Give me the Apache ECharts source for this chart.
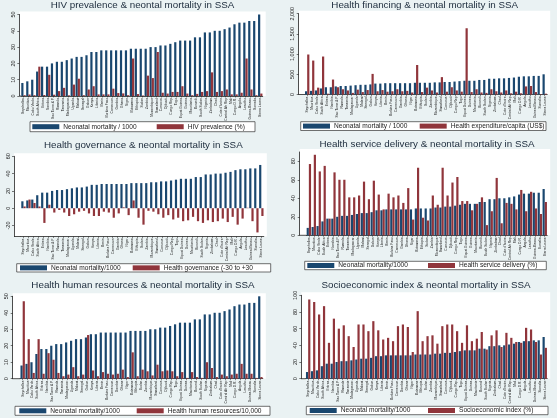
<!DOCTYPE html>
<html><head><meta charset="utf-8">
<script src="https://cdn.jsdelivr.net/npm/echarts@6/dist/echarts.min.js"></script>
<style>html,body{margin:0;padding:0;background:#eaf2f3}#c{width:557px;height:418px}</style>
</head><body><div id="c"></div><script>
const countries = ['Seychelles','Mauritius','Cabo Verde','South Africa','Eritrea','Namibia','Sao Tome & P','Rwanda','Tanzania','Madagascar','Uganda','Malawi','Senegal','Gabon','Kenya','Liberia','Benin','Burkina Faso','Cameroon','Gambia','Ghana','Niger','Botswana','Ethiopia','Sudan','Zambia','Mozambique','Swaziland','Comoros','Djibouti','Congo Rep','Togo','Equat Guinea','Guinea','Mauritania','Burundi','South Sudan','Nigeria','Zimbabwe','Chad',"Cote d'Ivoire",'Central Afr Rep','Mali','Congo D.R.','Angola','Lesotho','Guinea-Bissau','Somalia','Sierra Leone'];
const neonatal = [8,9,10,15,18,18,20,21,21,22,23,24,24,25,27,27,28,28,28,28,28,28,29,29,29,29,30,30,31,31,32,33,34,34,34,36,36,39,39,40,40,41,42,44,45,45,46,46,50];
const hivPrevalence = [0.5,0.9,0.5,18,0.6,13,0.8,3,5,0.4,7,10.6,0.5,4,6,1,1,1,4.5,1.8,1.6,0.5,23,1.2,0.3,12.5,11,27,2,1.5,2.5,2.5,6,1.5,0.5,1.3,2.5,3,14.5,2.5,3,4,1,1,2,23,4,0.5,1.5];
const healthExpenditure = [990,840,170,940,20,370,180,130,100,40,120,60,110,510,80,110,70,80,130,80,90,50,730,60,170,100,50,430,70,180,100,70,1640,60,130,50,40,130,80,50,100,30,70,30,200,210,60,10,20];
const governance = [2,10,6,2,-17,4,-5,-2,-5,-9,-7,-4,-3,-6,-9,-9,-4,-5,-11,-6,1,-8,9,-11,-19,-3,-4,-7,-11,-8,-13,-11,-15,-14,-10,-15,-17,-14,-16,-15,-12,-16,-10,-19,-12,0.5,-15,-28,-9];
const serviceDelivery = [77,87,69,75,18,68,60,60,41,41,43,58,39,59,44,28,45,41,43,35,51,17,73,19,16,43,33,73,43,57,63,37,37,27,34,41,11,26,62,13,35,34,28,49,26,47,29,23,36];
const humanResources = [47,24,3.5,24,3,15.5,11.5,3.5,1.5,2.5,7,1.5,2.5,26.5,5,1.5,4,3,2.5,3,5.5,1,16,1.5,5.5,4.5,2,8.5,4.5,5,4.5,1.5,4,0.5,4,1,0.5,10,6.5,1,2.5,1.5,2.5,3,9,3,3,0.5,1];
const socioeconomic = [95,92,77,87,43,72,60,64,51,38,65,65,57,69,58,47,49,45,63,65,62,32,81,45,51,52,42,63,65,65,57,43,64,45,48,56,35,52,58,38,55,49,44,43,61,59,44,29,37];

const ticks1 = [0,10,20,30,40,50];
const ticks2 = [0,500,1000,1500,2000];
const ticks3 = [-20,0,20,40,60];
const ticks4 = [0,20,40,60,80];
const ticks5 = [0,10,20,30,40,50];
const ticks6 = [0,20,40,60,80,100];

const P = [
 {t:'HIV prevalence & neontal mortality in SSA', tx:142.5, ty:5.5, ax:19.3, gl:21, gr:262.7, gt:14.5, gb:96, min:0, max:50, ticks:ticks1, na:'Neonatal mortality / 1000', nb:'HIV prevalence (%)', a:neonatal, b:hivPrevalence, box:[30,121.7,255,131.7], ka:32.3, kb:156.7},
 {t:'Health financing & neontal mortality in SSA', tx:424.7, ty:5.5, ax:298.7, gl:304.7, gr:547.2, gt:13.7, gb:94.5, min:0, max:2000, ticks:ticks2, na:'Neonatal mortality / 1000', nb:'Health expenditure/capita (US$)', a:neonatal.map(v=>v*10), b:healthExpenditure, box:[300.7,121.7,546,130.5], ka:303, kb:419.7},
 {t:'Health governance & neontal mortality in SSA', tx:143.3, ty:145.3, ax:14, gl:21, gr:263.8, gt:156.3, gb:236.5, min:-32.7, max:60, ticks:ticks3, bottom:true, na:'Neonatal mortality/1000', nb:'Health governance (-30 to +30', a:neonatal, b:governance, box:[16.7,263.7,270.7,272], ka:20, kb:132.7},
 {t:'Health service delivery & neontal mortality in SSA', tx:427, ty:144.7, ax:299.7, gl:306.4, gr:547.2, gt:152, gb:235.3, min:0, max:90, ticks:ticks4, na:'Neonatal mortality/1000', nb:'Health service delivery (%)', a:neonatal, b:serviceDelivery, box:[304.7,261.3,546.3,269.7], ka:307.3, kb:428},
 {t:'Health human resources & neontal mortality in SSA', tx:143, ty:285.3, ax:12.7, gl:20.2, gr:262.8, gt:296.3, gb:378.7, min:0, max:50, ticks:ticks5, na:'Neonatal mortality/1000', nb:'Health human resources/10,000', a:neonatal, b:humanResources, box:[15,406.3,270,415.3], ka:19.3, kb:136.7},
 {t:'Socioeconomic index & neontal mortality in SSA', tx:426, ty:285.3, ax:301.3, gl:305.7, gr:547.2, gt:295.3, gb:378.7, min:0, max:100, ticks:ticks6, na:'Neonatal mortality/1000', nb:'Socioeconomic index (%)', a:neonatal, b:socioeconomic, box:[306.3,406.3,548,414.7], ka:309.7, kb:428}
];

const FONT = 'Liberation Sans, Arial, sans-serif';
const BLUE = '#1a476f', RED = '#90353b';
const grid=[], xAxis=[], yAxis=[], series=[], legend=[], graphic=[];
P.forEach((p,i)=>{
  grid.push({left:p.gl, top:p.gt, width:p.gr-p.gl, height:p.gb-p.gt, containLabel:false});
  xAxis.push({type:'category', gridIndex:i, data:countries,
    axisLine:{show:true, onZero:!p.bottom, lineStyle:{color:'#222', width:0.8}},
    axisTick:{show:true, alignWithLabel:true, length:1.5, lineStyle:{color:'#222', width:0.5}},
    axisLabel:{interval:0, rotate:90, fontSize:3.3, margin:2, color:'#111', fontFamily:FONT}});
  yAxis.push({type:'value', gridIndex:i, min:p.min, max:p.max, offset:p.gl-p.ax,
    splitLine:{show:false},
    axisLine:{show:true, lineStyle:{color:'#222', width:0.8}},
    axisTick:{show:true, length:2, customValues:p.ticks, lineStyle:{color:'#222', width:0.6}},
    axisLabel:{customValues:p.ticks, rotate:90, fontSize:5.5, margin:3, color:'#222', fontFamily:FONT,
      formatter:v=>Number(v).toLocaleString('en-US')}});
  series.push({type:'bar', name:p.na, xAxisIndex:i, yAxisIndex:i, data:p.a, barWidth:2.2, barGap:'0%', itemStyle:{color:BLUE}, silent:true});
  series.push({type:'bar', name:p.nb, xAxisIndex:i, yAxisIndex:i, data:p.b, barWidth:2.2, barGap:'0%', itemStyle:{color:RED}, silent:true});
  const cy = (p.box[1]+p.box[3])/2;
  [[p.na,p.ka],[p.nb,p.kb]].forEach(([nm,kx])=>{
    legend.push({data:[nm], left:kx, top:cy-4, padding:0, itemWidth:27, itemHeight:5, icon:'rect', selectedMode:false,
      textStyle:{fontSize:6.6, lineHeight:8, color:'#222', fontFamily:FONT, padding:[0,0,0,-1]}});
  });
  graphic.push({type:'rect', z:-10, shape:{x:p.ax, y:p.gt-3, width:p.gr+3-p.ax, height:p.gb-p.gt+3}, style:{fill:'#ffffff'}, silent:true});
  graphic.push({type:'line', z:5, shape:{x1:p.ax, y1:p.gb, x2:p.gl, y2:p.gb}, style:{stroke:'#222', lineWidth:0.8}, silent:true});
  graphic.push({type:'rect', z:1, shape:{x:p.box[0], y:p.box[1], width:p.box[2]-p.box[0], height:p.box[3]-p.box[1]}, style:{fill:'#ffffff', stroke:'#333', lineWidth:0.7}, silent:true});
  graphic.push({type:'text', z:5, x:p.tx, y:p.ty, style:{text:p.t, align:'center', verticalAlign:'middle', fill:'#1c2b3c', font:'9.8px '+FONT}, silent:true});
});
const chart = echarts.init(document.getElementById('c'), null, {renderer:'canvas'});
chart.setOption({backgroundColor:'#eaf2f3', animation:false, grid, xAxis, yAxis, series, legend, graphic});
</script></body></html>
